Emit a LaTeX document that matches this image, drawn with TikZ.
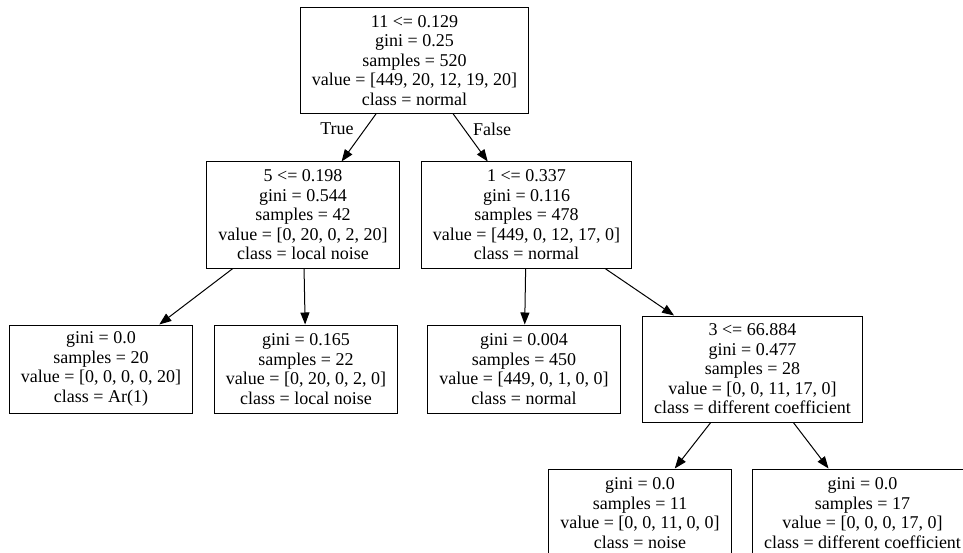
\documentclass[tikz,border=0pt]{standalone}
\usepackage{fontspec}
\setmainfont{Liberation Serif}
\usetikzlibrary{arrows.meta}

\begin{document}
\begin{tikzpicture}[x=1pt,y=-1pt,
		split/.style={draw,rectangle,align=center,inner xsep=11.5pt,inner ysep=0pt,minimum height=106pt,line width=1pt,font=\fontsize{18}{19.5}\selectfont},
		leaf/.style={split,minimum height=88pt},
		edge/.style={-{Triangle[length=12pt,width=9pt]},line width=1pt},
		branchlabel/.style={font=\fontsize{18}{19.5}\selectfont}]
		\clip (0,0) rectangle (963,553);

		\node [split] (root) at (414.5,60.5) {11 <= 0.129\\gini = 0.25\\samples = 520\\value = [449, 20, 12, 19, 20]\\class = normal};
		\node [split] (split5) at (303,215) {5 <= 0.198\\gini = 0.544\\samples = 42\\value = [0, 20, 0, 2, 20]\\class = local noise};
		\node [split] (split1) at (526.5,215) {1 <= 0.337\\gini = 0.116\\samples = 478\\value = [449, 0, 12, 17, 0]\\class = normal};
		\node [leaf] (ar) at (101,369) {gini = 0.0\\samples = 20\\value = [0, 0, 0, 0, 20]\\class = Ar(1)};
		\node [leaf] (local) at (306,369) {gini = 0.165\\samples = 22\\value = [0, 20, 0, 2, 0]\\class = local noise};
		\node [leaf] (normal) at (524,369) {gini = 0.004\\samples = 450\\value = [449, 0, 1, 0, 0]\\class = normal};
		\node [split] (split3) at (752.5,369) {3 <= 66.884\\gini = 0.477\\samples = 28\\value = [0, 0, 11, 17, 0]\\class = different coefficient};
		\node [leaf] (noise) at (640,513) {gini = 0.0\\samples = 11\\value = [0, 0, 11, 0, 0]\\class = noise};
		\node [leaf] (coeff) at (862.5,513) {gini = 0.0\\samples = 17\\value = [0, 0, 0, 17, 0]\\class = different coefficient};

		\draw [edge] (root) -- (split5);
		\draw [edge] (root) -- (split1);
		\draw [edge] (split5) -- (ar);
		\draw [edge] (split5) -- (local);
		\draw [edge] (split1) -- (normal);
		\draw [edge] (split1) -- (split3);
		\draw [edge] (split3) -- (noise);
		\draw [edge] (split3) -- (coeff);

		\node [branchlabel] (true) at (337,129) {True};
		\node [branchlabel] (false) at (492,129) {False};
	\end{tikzpicture}
\end{document}
